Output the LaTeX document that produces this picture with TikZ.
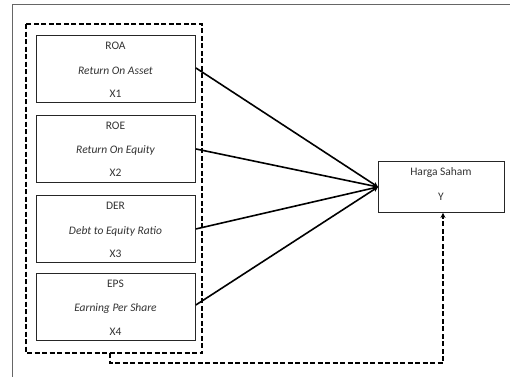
\documentclass[tikz,border=0pt]{standalone}
\usepackage{fontspec}
\setmainfont{Carlito}
\usetikzlibrary{arrows.meta}
\begin{document}
\begin{tikzpicture}[x=1pt,y=-1pt,
  varbox/.style={draw=black!85,line width=0.9pt,fill=white},
  lbl/.style={font=\fontsize{11.5}{13}\selectfont,text=black!80,inner sep=0pt},
  ilbl/.style={font=\fontsize{11.5}{13}\selectfont\itshape,text=black!80,inner sep=0pt},
  conn/.style={line width=1.6pt,-{Stealth[length=5pt,width=5pt]}},
  dashconn/.style={line width=1.6pt,dash pattern=on 5pt off 2.5pt}]
\useasboundingbox (0,0) rectangle (510,376);
\begin{scope}
\clip (0,0) rectangle (510,376);
\draw[draw=black!60,line width=1.5pt] (12.5,4.5) rectangle (520,390);
\end{scope}
% dashed group box
\draw[dashconn] (26,24) rectangle (202,353);
\coordinate (gb) at (110,353);
% variable boxes
\node[varbox,minimum width=159pt,minimum height=67pt,anchor=north west] (roa) at (36,35) {};
\node[varbox,minimum width=159pt,minimum height=67pt,anchor=north west] (roe) at (36,115) {};
\node[varbox,minimum width=159pt,minimum height=67pt,anchor=north west] (der) at (36,195) {};
\node[varbox,minimum width=159pt,minimum height=67pt,anchor=north west] (eps) at (36,273) {};
\node[lbl] (roa1) at (115.5,46) {ROA};
\node[ilbl] (roa2) at (115.5,71) {Return On Asset};
\node[lbl] (roa3) at (115.5,94) {X1};
\node[lbl] (roe1) at (115.5,126) {ROE};
\node[ilbl] (roe2) at (115.5,150) {Return On Equity};
\node[lbl] (roe3) at (115.5,173) {X2};
\node[lbl] (der1) at (115.5,206) {DER};
\node[ilbl] (der2) at (115.5,231) {Debt to Equity Ratio};
\node[lbl] (der3) at (115.5,254) {X3};
\node[lbl] (eps1) at (115.5,284) {EPS};
\node[ilbl] (eps2) at (115.5,308) {Earning Per Share};
\node[lbl] (eps3) at (115.5,332) {X4};
% dependent
\node[varbox,minimum width=126pt,minimum height=51pt,anchor=north west] (y) at (378,161) {};
\node[lbl] (y1) at (441,172) {Harga Saham};
\node[lbl] (y2) at (441,197) {Y};
% connectors
\draw[conn] (roa.east) ++(0,-1) -- (y.west);
\draw[conn] (roe.east) -- (y.west);
\draw[conn] (der.east) -- (y.west);
\draw[conn] (eps.east) ++(0,-2) -- (y.west);
\draw[dashconn,-{Stealth[length=5pt,width=5pt]}] (gb) -- (110,363) -- (443,363) -- (y.south -| 443,0);
\end{tikzpicture}
\end{document}
